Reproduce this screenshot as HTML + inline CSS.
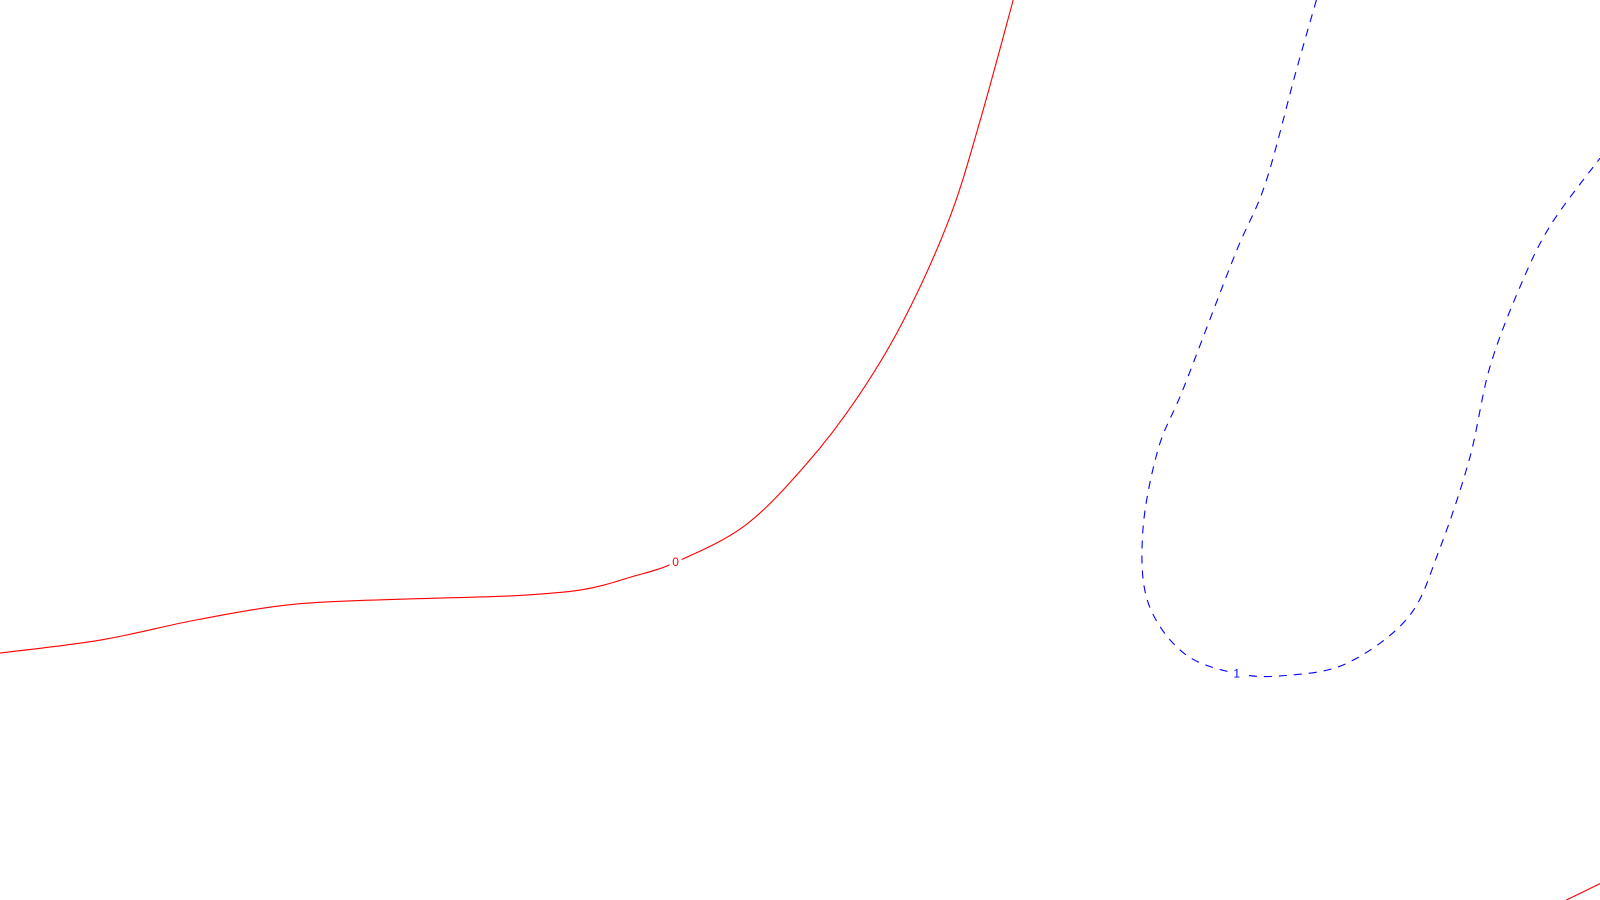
<!DOCTYPE html>
<html><head><meta charset="utf-8"><style>html,body{margin:0;padding:0;background:#fff;}svg{display:block}</style></head>
<body>
<svg id="chart" width="1600" height="900" xmlns="http://www.w3.org/2000/svg"></svg>
<script>
// Contour level values
const levels = [0, 1];
// Contour 0 (red, solid) in data units
const c0x = [0, 6.25, 12.19, 18.13, 25, 31.25, 35.63, 38.75, 41.38, 45.63, 49.38, 52.5, 55.31, 58.13, 60, 62.06];
const c0y = [26, 27.3, 29.3, 30.8, 31.3, 31.6, 32.2, 33.5, 34.9, 38.5, 44.5, 51, 58.5, 68.5, 78, 90];
// Contour 1 (blue, dashed)
const c1x = [80.63, 79.38, 77.5, 75.63, 72.5, 70.94, 70, 70.31, 72.5, 75.75, 78.75, 82.5, 86.25, 88.13, 90, 91.25, 93.13, 95, 98];
const c1y = [90, 83, 72, 65, 52, 46, 38, 31, 26, 24, 23.8, 25, 29.5, 36, 45, 54, 62, 68, 74.5];
// Second zero-contour fragment (bottom right)
const c2x = [95.94, 98];
const c2y = [1.8, 3.4];

const K = 1 / 0.98;
const sx = v => v * 16 * K;
const sy = v => (900 - v * 10) * K;
const svg = document.getElementById('chart');
const NS = 'http://www.w3.org/2000/svg';

function pathFrom(xs, ys) {
  const p = xs.map((x, i) => [sx(x), sy(ys[i])]);
  let d = 'M' + p[0][0] + ',' + p[0][1];
  for (let i = 0; i < p.length - 1; i++) {
    const p0 = p[i - 1] || p[i], p1 = p[i], p2 = p[i + 1], p3 = p[i + 2] || p2;
    const c1 = [p1[0] + (p2[0] - p0[0]) / 6, p1[1] + (p2[1] - p0[1]) / 6];
    const c2 = [p2[0] - (p3[0] - p1[0]) / 6, p2[1] - (p3[1] - p1[1]) / 6];
    d += ' C' + c1 + ' ' + c2 + ' ' + p2;
  }
  return d;
}
function addLine(xs, ys, color, dash, name) {
  const el = document.createElementNS(NS, 'path');
  el.setAttribute('d', pathFrom(xs, ys));
  el.setAttribute('fill', 'none');
  el.setAttribute('stroke', color);
  el.setAttribute('stroke-width', '1.1');
  if (dash) el.setAttribute('stroke-dasharray', '8,7');
  
  
  svg.appendChild(el);
}
function addLabel(x, y, txt, color, name) {
  const bg = document.createElementNS(NS, 'rect');
  bg.setAttribute('x', sx(x) - 6); bg.setAttribute('y', sy(y) - 7);
  bg.setAttribute('width', 12); bg.setAttribute('height', 13);
  bg.setAttribute('fill', '#fff');
  
  
  svg.appendChild(bg);
  const t = document.createElementNS(NS, 'text');
  t.setAttribute('x', sx(x)); t.setAttribute('y', sy(y) + 4);
  t.setAttribute('text-anchor', 'middle');
  t.setAttribute('font-family', 'Liberation Sans, sans-serif');
  t.setAttribute('font-size', '12');
  t.setAttribute('fill', color);
  t.textContent = txt;
  
  
  svg.appendChild(t);
}
addLine(c0x, c0y, '#ff0000', false, 'contour-level-0');
addLine(c2x, c2y, '#ff0000', false, 'contour-level-0-fragment');
addLine(c1x, c1y, '#0000ff', true, 'contour-level-1');
addLabel(41.38, 34.9, String(levels[0]), '#ff0000', 'contour-label-0');
addLabel(75.75, 24, String(levels[1]), '#0000ff', 'contour-label-1');
</script>
</body></html>
